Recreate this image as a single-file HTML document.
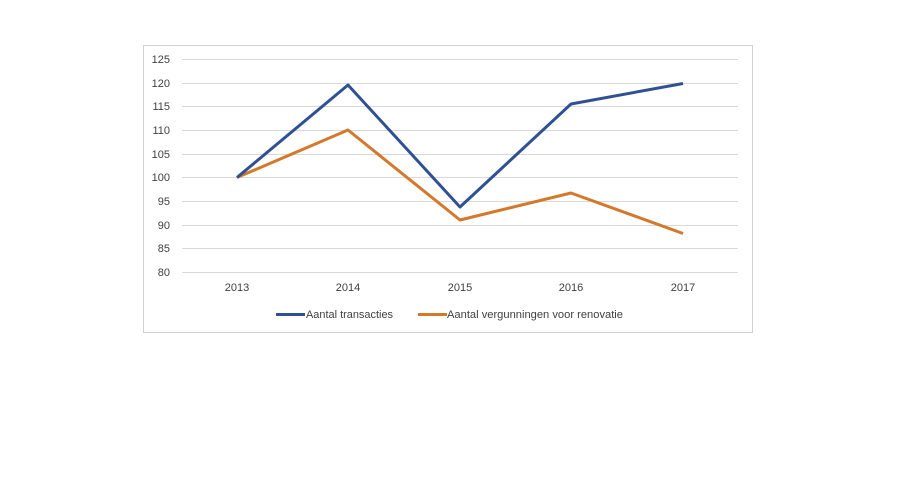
<!DOCTYPE html>
<html>
<head>
<meta charset="utf-8">
<style>
  html,body{margin:0;padding:0;background:#fff;}
  body{width:898px;height:499px;overflow:hidden;}
  svg{display:block;}
  text{font-family:"Liberation Sans",sans-serif;font-size:11px;fill:#404040;}
</style>
</head>
<body>
<svg width="898" height="499" viewBox="0 0 898 499" xmlns="http://www.w3.org/2000/svg">
  <rect x="0" y="0" width="898" height="499" fill="#fff"/>
  <!-- chart frame -->
  <rect x="143.5" y="45.5" width="609" height="287" fill="#fff" stroke="#d0d0d0" stroke-width="1"/>
  <!-- gridlines -->
  <g stroke="#d9d9d9" stroke-width="1">
    <line x1="182" y1="59.5" x2="738" y2="59.5"/>
    <line x1="182" y1="83.5" x2="738" y2="83.5"/>
    <line x1="182" y1="106.5" x2="738" y2="106.5"/>
    <line x1="182" y1="130.5" x2="738" y2="130.5"/>
    <line x1="182" y1="154.5" x2="738" y2="154.5"/>
    <line x1="182" y1="177.5" x2="738" y2="177.5"/>
    <line x1="182" y1="201.5" x2="738" y2="201.5"/>
    <line x1="182" y1="225.5" x2="738" y2="225.5"/>
    <line x1="182" y1="248.5" x2="738" y2="248.5"/>
    <line x1="182" y1="272.5" x2="738" y2="272.5"/>
  </g>
  <!-- y labels -->
  <g text-anchor="end">
    <text x="170" y="63">125</text>
    <text x="170" y="87">120</text>
    <text x="170" y="110">115</text>
    <text x="170" y="134">110</text>
    <text x="170" y="158">105</text>
    <text x="170" y="181">100</text>
    <text x="170" y="205">95</text>
    <text x="170" y="229">90</text>
    <text x="170" y="252">85</text>
    <text x="170" y="276">80</text>
  </g>
  <!-- x labels -->
  <g text-anchor="middle">
    <text x="237" y="291">2013</text>
    <text x="348" y="291">2014</text>
    <text x="460" y="291">2015</text>
    <text x="571" y="291">2016</text>
    <text x="683" y="291">2017</text>
  </g>
  <!-- series -->
  <polyline points="237,177.5 348,130 460,220 571,193 683,233.5" fill="none" stroke="#D4782C" stroke-width="3" stroke-linejoin="round"/>
  <polyline points="237,177.5 348,85 460,207 571,104 683,83.5" fill="none" stroke="#2F5193" stroke-width="3" stroke-linejoin="round"/>
  <!-- legend -->
  <line x1="276" y1="314.5" x2="305" y2="314.5" stroke="#2F5193" stroke-width="3"/>
  <text x="306" y="318" textLength="87" lengthAdjust="spacingAndGlyphs">Aantal transacties</text>
  <line x1="418" y1="314.5" x2="447" y2="314.5" stroke="#D4782C" stroke-width="3"/>
  <text x="447" y="318" textLength="176" lengthAdjust="spacingAndGlyphs">Aantal vergunningen voor renovatie</text>
</svg>
</body>
</html>
